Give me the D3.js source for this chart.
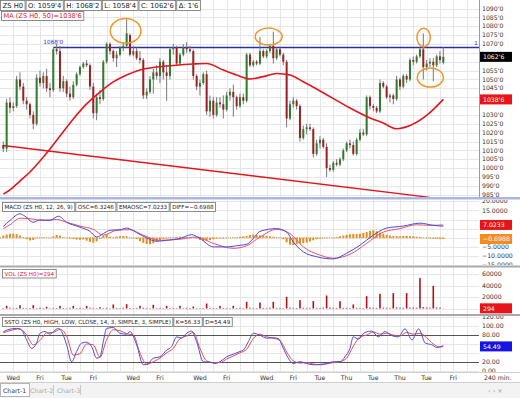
<!DOCTYPE html>
<html>
<head>
<meta charset="utf-8">
<script src="https://cdn.jsdelivr.net/npm/d3@7"></script>
<style>
body { margin: 0; background: #fff; }
svg { display: block; font-family: "DejaVu Sans", sans-serif; }
</style>
</head>
<body>
<script>
// ---- data ----
// 240 min bars of ZS H0: [open, high, low, close]
var bars = [
  [1013, 1015, 1009, 1011], [1011, 1039, 1009, 1037], [1037, 1040, 1031, 1034], [1034, 1037, 1032, 1035],
  [1035, 1052, 1034, 1050], [1050, 1054, 1044, 1046], [1046, 1048, 1036, 1038], [1038, 1040, 1033, 1036],
  [1036, 1037, 1028, 1030], [1030, 1032, 1022, 1025], [1025, 1053, 1024, 1051], [1051, 1055, 1046, 1048],
  [1048, 1054, 1045, 1052], [1052, 1056, 1043, 1045], [1045, 1048, 1040, 1044], [1044, 1068, 1043, 1067],
  [1067, 1070, 1064, 1066], [1066, 1069, 1043, 1045], [1045, 1052, 1043, 1049], [1049, 1050, 1040, 1042],
  [1042, 1046, 1038, 1040], [1040, 1049, 1039, 1047], [1047, 1054, 1046, 1053], [1053, 1058, 1052, 1057],
  [1057, 1060, 1056, 1059], [1059, 1061, 1057, 1058], [1058, 1059, 1044, 1046], [1046, 1048, 1028, 1031],
  [1031, 1042, 1027, 1040], [1040, 1044, 1036, 1039], [1039, 1061, 1038, 1060], [1060, 1071, 1059, 1070],
  [1070, 1071, 1064, 1066], [1066, 1067, 1060, 1062], [1062, 1066, 1057, 1064], [1064, 1069, 1063, 1068],
  [1068, 1071, 1066, 1069], [1069, 1084, 1068, 1076], [1075, 1076, 1063, 1064], [1064, 1069, 1063, 1066],
  [1066, 1068, 1061, 1062], [1062, 1066, 1059, 1061], [1061, 1062, 1039, 1041], [1041, 1045, 1039, 1043],
  [1043, 1052, 1042, 1050], [1050, 1056, 1042, 1054], [1054, 1058, 1050, 1052], [1052, 1062, 1048, 1060],
  [1060, 1061, 1050, 1054], [1054, 1058, 1038, 1052], [1052, 1068, 1050, 1067], [1067, 1070, 1064, 1068],
  [1068, 1069, 1058, 1059], [1059, 1065, 1058, 1064], [1064, 1070, 1063, 1068], [1068, 1071, 1065, 1067],
  [1067, 1069, 1065, 1066], [1066, 1067, 1050, 1052], [1052, 1053, 1044, 1046], [1046, 1050, 1041, 1048],
  [1048, 1054, 1047, 1053], [1053, 1055, 1030, 1032], [1032, 1041, 1029, 1038], [1038, 1040, 1028, 1030],
  [1030, 1040, 1029, 1037], [1037, 1040, 1034, 1036], [1036, 1041, 1028, 1033], [1033, 1043, 1032, 1041],
  [1041, 1045, 1038, 1043], [1043, 1047, 1029, 1040], [1040, 1041, 1033, 1035], [1035, 1042, 1034, 1040],
  [1040, 1042, 1036, 1038], [1038, 1065, 1037, 1064], [1064, 1065, 1057, 1058], [1058, 1061, 1057, 1060],
  [1060, 1061, 1058, 1059], [1059, 1074, 1058, 1066], [1066, 1067, 1062, 1063], [1063, 1067, 1062, 1066],
  [1066, 1070, 1065, 1069], [1069, 1077, 1059, 1062], [1062, 1068, 1061, 1067], [1067, 1068, 1063, 1064],
  [1064, 1065, 1058, 1060], [1060, 1061, 1023, 1028], [1028, 1038, 1027, 1036], [1036, 1040, 1034, 1038],
  [1038, 1039, 1033, 1035], [1035, 1036, 1015, 1017], [1017, 1024, 1016, 1022], [1022, 1025, 1019, 1023],
  [1023, 1025, 1021, 1022], [1022, 1023, 1006, 1008], [1008, 1016, 1007, 1014], [1014, 1018, 1011, 1016],
  [1016, 1017, 1011, 1012], [1012, 1014, 995, 1000], [1000, 1002, 998, 999], [999, 1004, 998, 1003],
  [1003, 1005, 1001, 1002], [1002, 1006, 1001, 1005], [1005, 1011, 1004, 1010], [1010, 1015, 1009, 1014],
  [1014, 1016, 1011, 1013], [1013, 1015, 1007, 1008], [1008, 1017, 1007, 1016], [1016, 1022, 1015, 1020],
  [1020, 1022, 1018, 1019], [1019, 1041, 1018, 1040], [1040, 1041, 1033, 1035], [1035, 1036, 1032, 1034],
  [1034, 1035, 1031, 1032], [1032, 1050, 1031, 1048], [1048, 1049, 1045, 1046], [1046, 1047, 1039, 1040],
  [1040, 1042, 1037, 1041], [1041, 1042, 1036, 1039], [1039, 1052, 1038, 1050], [1050, 1051, 1044, 1046],
  [1046, 1053, 1045, 1052], [1052, 1053, 1048, 1050], [1050, 1062, 1049, 1061], [1061, 1063, 1058, 1060],
  [1060, 1064, 1059, 1063], [1063, 1068, 1062, 1067], [1067, 1076, 1050, 1057], [1057, 1061, 1055, 1059],
  [1059, 1062, 1057, 1060], [1060, 1062, 1049, 1058], [1058, 1064, 1057, 1063], [1063, 1066, 1059, 1061],
  [1059.5, 1068.25, 1058.5, 1062.75]
];

var volumes = [
  900, 4600, 1200, 700, 1100, 5800, 1000, 600, 900, 5800, 800, 1300, 700, 2900, 600, 1000, 800,
  4600, 900, 700, 1100, 4600, 800, 1000, 600, 4600, 1200, 900, 700, 2300, 800, 1100, 600,
  7000, 1000, 800, 1300, 7500, 900, 700, 1000, 4600, 1200, 800, 600, 6400, 900, 1100, 700,
  4600, 800, 1000, 600, 4600, 700, 1200, 900, 3500, 800, 600, 1000, 8700, 1100, 900, 700,
  4600, 1000, 800, 600, 4600, 900, 1200, 700, 11600, 1300, 1000, 800, 10400, 1100, 900, 1400,
  11600, 1000, 1200, 800, 20300, 1500, 1100, 900, 14500, 1300, 1000, 1200, 12800, 1100, 900, 1400,
  22600, 1600, 1200, 1000, 12800, 1300, 1100, 900, 7000, 1200, 1000, 800, 21400, 1700, 1300, 1100,
  25500, 1500, 1200, 1000, 26700, 1800, 1400, 1200, 26700, 1600, 1500, 1300, 52800, 2200, 1600, 1400,
  39400, 1800, 1500, 294
];

// MA(50) readings [bar, value]
var maLine = [
  [0, 985.3], [2, 987.7], [5, 992.7], [8, 997.8], [11, 1004], [14, 1010.8], [17, 1018.1], [21, 1027.7],
  [25, 1036.2], [29, 1042.9], [33, 1048.6], [37, 1052.5], [41, 1055.3], [46, 1057], [51, 1057.9],
  [57, 1058.7], [61, 1059], [66, 1055.3], [70, 1052.5], [74, 1050.3], [78, 1051.6], [82, 1053.4],
  [86, 1052.5], [90, 1048.7], [94, 1044.6], [98, 1040.3], [104, 1033.9], [110, 1028.3], [114, 1025.4],
  [118, 1022.2], [122, 1024], [127, 1029.7], [132, 1038.75]
];
var trendLine = [[0, 1012.75], [128, 983.5]];
var resistance = { from: 15, price: 1068 };
// orange marks: centre [bar, price], half-size [bars, price]
var marks = [
  { i: 36.7, p: 1077.4, di: 4.6, dp: 7 },
  { i: 79.6, p: 1074.2, di: 4.05, dp: 4.8 },
  { i: 126.1, p: 1073.7, di: 2, dp: 5.2 },
  { i: 128.1, p: 1051.1, di: 3.9, dp: 5.4 }
];

var macdOsc = [
  [0, 6.2], [2, 9.5], [5, 13.1], [6.5, 11.8], [9, 8.5], [11, 9.8], [14, 9.5], [16.5, 11.8], [19, 8.5],
  [23, 5.8], [26, 3.5], [28, 0.4], [30, 2.3], [32, 4.1], [35, 4.4], [37, 5.3], [40, 2.8], [43, -0.1],
  [46, -1.9], [49, -1.4], [53, -0.4], [56.5, 1.7], [59, -0.4], [63, -5], [67, -5], [71, -4.1], [73, -3.6],
  [75, -0.4], [77, 3.5], [82, 5], [85, 3.1], [87, -2.3], [90, -7.7], [94, -10.4], [99, -11.6], [103, -8.5],
  [107, -4.1], [111, 1.4], [115, 5.3], [120, 6.4], [125, 8], [129, 6.8], [132, 6.3246]
];
var macdEma = [
  [0, 5], [2, 7.1], [5, 10.7], [8, 10.4], [12, 9.5], [16, 10], [19, 8.5], [23, 6.4], [27, 4.6], [30, 1.4],
  [34, 4.1], [38, 4.4], [42, 1.4], [47, -1.4], [53, -0.8], [58, 0.4], [63, -3.1], [69, -5.8], [73, -4.4],
  [77, 0.4], [82, 4.6], [86, 2.3], [90, -5], [95, -9.5], [99, -11.2], [104, -9.1], [109, -3.1], [114, 3.1],
  [119, 5], [124, 7.1], [128, 6.8], [132, 7.0233]
];
var macdDiff = [
  1.2, 1.8, 2.2, 2.3, 2.0, 1.2, 0.3, -0.8, -1.5, -1.2, -0.3, 0.2, 0.3, 0.1, -0.2, 0.8, 1.5, 1.2,
  0.3, -0.2, -0.4, -0.6, -1.0, -1.1, -0.9, -1.6, -2.3, -2.7, -2.0, -0.5, 1.0, 1.5, 0.6, 0.3,
  0.6, 0.9, 1.0, 0.8, 0.2, -0.3, -0.8, -1.8, -2.8, -3.4, -3.6, -3.0, -2.2, -1.2, -0.6, -0.4, -0.2,
  0.3, 0.5, 0.6, 0.5, 0.4, 0.2, -0.1, -0.4, -1.2, -1.8, -1.6, -1.2, -0.8, -0.5, -0.3, -0.4, -0.2, 0.1,
  0.2, 0.3, 0.5, 0.7, 1.0, 1.5, 1.8, 1.6, 1.3, 1.2, 1.0, 0.8, 0.6, 0.3, -0.2, -0.8,
  -2.5, -3.8, -4.0, -3.6, -3.2, -3.0, -2.6, -2.0, -1.4, -0.8, -0.5, -0.3, -0.2, 0.0, 0.2, 0.4, 0.8,
  1.2, 1.6, 1.9, 2.1, 2.0, 2.2, 2.6, 3.2, 3.8, 4.1, 3.6, 2.8, 2.2, 1.6,
  1.2, 1.0, 0.9, 0.8, 1.0, 1.1, 0.9, 0.8, 0.6, 0.4, 0.1, -0.2, -0.4, -0.5, -0.6, -0.7, -0.6988
];

var stoK = [
  [0, 87], [1, 91], [4, 95], [5.5, 91], [7, 69], [8.5, 50], [10, 62], [11, 84], [12.5, 88], [14, 82],
  [15.5, 91], [16.5, 95], [17.5, 88], [19, 58], [20.5, 20], [22, 43], [23.5, 62], [25, 64], [26.5, 54],
  [28, 28], [29, 31], [30, 65], [31, 95], [33, 97], [35, 84], [37, 82], [38, 88], [40, 58], [42, 13],
  [43.5, 16], [45, 28], [47, 31], [49, 46], [50.5, 54], [52, 76], [53.5, 73], [55, 84], [56.5, 89],
  [58, 65], [60, 20], [62, 19], [63.5, 16], [65, 20], [67, 31], [69, 37], [71, 43], [72, 46], [73.5, 65],
  [75, 84], [77, 80], [79, 73], [81, 74], [82.5, 72], [84, 50], [85.5, 28], [87, 16], [89, 20], [91, 16],
  [93, 13], [95, 14], [97, 16], [99, 20], [101, 20], [102.5, 31], [104, 50], [105, 76], [106.5, 71],
  [108.5, 86], [110.5, 89], [112.5, 76], [114.5, 88], [116.5, 79], [118.5, 76], [120.5, 94], [122.6, 69],
  [124.6, 94], [126.6, 62], [128.6, 58], [130, 52], [132, 56.33]
];
var stoD = [
  [0, 85], [2, 90], [5, 94], [7, 80], [9, 58], [11, 68], [13, 85], [15, 86], [17, 93], [19, 78], [21, 35],
  [23, 38], [25, 60], [27, 58], [29, 30], [31, 70], [33, 92], [35, 90], [37, 83], [39, 80], [41, 40],
  [43, 14], [45, 20], [47, 28], [49, 40], [51, 50], [53, 72], [55, 78], [57, 86], [59, 50], [61, 22],
  [63, 18], [65, 18], [67, 26], [69, 33], [71, 40], [73, 48], [75, 72], [77, 82], [79, 76], [81, 73],
  [83, 68], [85, 42], [87, 22], [89, 17], [91, 18], [93, 15], [95, 13], [97, 15], [99, 18], [101, 20],
  [103, 28], [105, 55], [107, 76], [109, 80], [111, 87], [113, 82], [115, 84], [117, 80], [119, 78],
  [121, 86], [123, 82], [125, 84], [127, 74], [129, 60], [131, 53], [132, 54.49]
];

var dayTicks = [
  [3, "Wed"], [11, "Fri"], [19, "Tue"], [27, "Fri"], [39, "Wed"], [47, "Fri"], [59, "Wed"], [67, "Fri"],
  [79, "Wed"], [87, "Fri"], [95, "Tue"], [103, "Thu"], [111, "Tue"], [119, "Thu"], [127, "Tue"], [135, "Fri"]
];

// ---- layout ----
var plotRight = 479;
var svg = d3.select("body").append("svg").attr("width", 520).attr("height", 398);

var x = d3.scaleLinear().domain([0, 132]).range([3.3, 443.3]);
var yPrice = d3.scaleLinear().domain([985, 1070]).range([194.7, 44]);
var yMacd = d3.scaleLinear().domain([-10, 10]).range([256, 219.5]);
var yVol = d3.scaleLinear().domain([0, 60000]).range([308.5, 274]);
var ySto = d3.scaleLinear().domain([0, 100]).range([370.6, 326.2]);

function fmtPrice(v) {
  var w = Math.floor(v), e = Math.round((v - w) * 8);
  if (e === 8) { w += 1; e = 0; }
  return w + "'" + e;
}

var last = bars[bars.length - 1];
var prev = bars[bars.length - 2];

var panels = [
  { id: "p0", top: 0, bottom: 197, y: yPrice, ticks: d3.range(985, 1095, 5), fmt: fmtPrice,
    boxes: [{ v: last[3], t: fmtPrice(last[3]), bg: "#000" }, { v: maLine[maLine.length - 1][1], t: fmtPrice(maLine[maLine.length - 1][1]), bg: "#e8141a" }] },
  { id: "p1", top: 200, bottom: 265, y: yMacd, ticks: d3.range(-15, 25, 5), fmt: d3.format(".4f"),
    boxes: [{ v: macdEma[macdEma.length - 1][1], t: d3.format(".4f")(macdEma[macdEma.length - 1][1]), bg: "#e8141a" },
            { v: macdDiff[macdDiff.length - 1], t: d3.format(".4f")(macdDiff[macdDiff.length - 1]), bg: "#f28c1c" }] },
  { id: "p2", top: 268, bottom: 314, y: yVol, ticks: [0, 20000, 40000, 60000], fmt: d3.format("d"),
    boxes: [{ v: volumes[volumes.length - 1], t: String(volumes[volumes.length - 1]), bg: "#e8141a" }] },
  { id: "p3", top: 316, bottom: 372, y: ySto, ticks: d3.range(0, 140, 20), fmt: d3.format(".2f"),
    boxes: [{ v: stoD[stoD.length - 1][1], t: d3.format(".2f")(stoD[stoD.length - 1][1]), bg: "#1414e6" }] }
];

var defs = svg.append("defs");
panels.forEach(function (p) {
  defs.append("clipPath").attr("id", "c" + p.id).append("rect")
    .attr("x", 0).attr("y", p.top).attr("width", plotRight).attr("height", p.bottom - p.top);
  defs.append("clipPath").attr("id", "a" + p.id).append("rect")
    .attr("x", plotRight).attr("y", p.top).attr("width", 520 - plotRight).attr("height", p.bottom - p.top);

  var g = svg.append("g").attr("clip-path", "url(#c" + p.id + ")");
  g.selectAll("line.h").data(p.ticks).enter().append("line")
    .attr("x1", 0).attr("x2", plotRight)
    .attr("y1", function (d) { return Math.round(p.y(d)) + 0.5; })
    .attr("y2", function (d) { return Math.round(p.y(d)) + 0.5; })
    .attr("stroke", "#e6e6e6");
  g.selectAll("line.v").data(d3.range(3, 145, 4)).enter().append("line")
    .attr("x1", function (d) { return Math.round(x(d)) + 0.5; })
    .attr("x2", function (d) { return Math.round(x(d)) + 0.5; })
    .attr("y1", p.top).attr("y2", p.bottom)
    .attr("stroke", "#e6e6e6");
  p.g = g;

  var a = svg.append("g").attr("clip-path", "url(#a" + p.id + ")");
  a.selectAll("text").data(p.ticks.filter(function (d) {
      return p.boxes.every(function (b) { return Math.abs(p.y(d) - p.y(b.v)) > 7; });
    })).enter().append("text")
    .attr("x", 482).attr("y", function (d) { return p.y(d); }).attr("dy", "0.35em")
    .attr("fill", "#333").style("font-size", "6.2px")
    .text(function (d) { return p.fmt(d); });
  p.boxes.forEach(function (b) {
    a.append("rect").attr("x", 480).attr("y", p.y(b.v) - 5).attr("width", 32).attr("height", 10).attr("fill", b.bg);
    a.append("text").attr("x", 483).attr("y", p.y(b.v)).attr("dy", "0.35em")
      .attr("fill", "#fff").style("font-size", "6.2px").text(b.t);
  });
});

// ---- main price panel ----
var gm = panels[0].g;
var lineP = d3.line().x(function (d) { return x(d[0]); }).y(function (d) { return yPrice(d[1]); });

gm.append("path").datum(trendLine).attr("d", lineP)
  .attr("fill", "none").attr("stroke", "#e3161e").attr("stroke-width", 1.4);

gm.append("line")
  .attr("x1", x(resistance.from)).attr("x2", plotRight)
  .attr("y1", yPrice(resistance.price)).attr("y2", yPrice(resistance.price))
  .attr("stroke", "#2b2fa6").attr("stroke-width", 1.5);
gm.append("text").attr("x", x(resistance.from)).attr("y", yPrice(resistance.price) - 4)
  .attr("text-anchor", "middle").attr("fill", "#3a3ac8").style("font-size", "5.8px")
  .text(fmtPrice(resistance.price));
gm.append("text").attr("x", plotRight - 3).attr("y", yPrice(resistance.price) - 3)
  .attr("text-anchor", "middle").attr("fill", "#3a3ac8").style("font-size", "5.5px").text("1");

var candle = gm.append("g").selectAll("g").data(bars).enter().append("g");
candle.append("line")
  .attr("x1", function (d, i) { return x(i); }).attr("x2", function (d, i) { return x(i); })
  .attr("y1", function (d) { return yPrice(d[1]); }).attr("y2", function (d) { return yPrice(d[2]); })
  .attr("stroke", "#777").attr("stroke-width", 1);
candle.append("rect")
  .attr("x", function (d, i) { return x(i) - 1; }).attr("width", 2)
  .attr("y", function (d) { return yPrice(Math.max(d[0], d[3])); })
  .attr("height", function (d) { return Math.max(1, Math.abs(yPrice(d[0]) - yPrice(d[3]))); })
  .attr("fill", function (d) { return d[3] >= d[0] ? "#2f7a2f" : "#9c2222"; });

gm.append("path").datum(maLine).attr("d", lineP.curve(d3.curveMonotoneX))
  .attr("fill", "none").attr("stroke", "#e3161e").attr("stroke-width", 1.6);

gm.selectAll("ellipse").data(marks).enter().append("ellipse")
  .attr("cx", function (d) { return x(d.i); }).attr("cy", function (d) { return yPrice(d.p); })
  .attr("rx", function (d) { return x(d.i + d.di) - x(d.i); })
  .attr("ry", function (d) { return yPrice(d.p - d.dp) - yPrice(d.p); })
  .attr("fill", "none").attr("stroke", "#f0962a").attr("stroke-width", 1.5);

svg.append("line").attr("x1", plotRight + 0.5).attr("x2", plotRight + 0.5).attr("y1", 0).attr("y2", 197)
  .attr("stroke", "#8d98d6");

// ---- MACD panel ----
var g1 = panels[1].g;
g1.append("line").attr("x1", 0).attr("x2", x(132) + 1).attr("y1", yMacd(0)).attr("y2", yMacd(0))
  .attr("stroke", "#b77a2a").attr("stroke-dasharray", "1,1.3").attr("stroke-width", 0.8);
g1.selectAll("rect").data(macdDiff).enter().append("rect")
  .attr("x", function (d, i) { return x(i) - 1; }).attr("width", 2)
  .attr("y", function (d) { return Math.min(yMacd(d), yMacd(0)); })
  .attr("height", function (d) { return Math.abs(yMacd(d) - yMacd(0)); })
  .attr("fill", "#e38d1e");
var lineM = d3.line().curve(d3.curveMonotoneX)
  .x(function (d) { return x(d[0]); }).y(function (d) { return yMacd(d[1]); });
g1.append("path").datum(macdEma).attr("d", lineM).attr("fill", "none").attr("stroke", "#e8506e").attr("stroke-width", 1);
g1.append("path").datum(macdOsc).attr("d", lineM).attr("fill", "none").attr("stroke", "#4a4ad8").attr("stroke-width", 1);

// ---- volume panel ----
var g2 = panels[2].g;
g2.selectAll("rect").data(volumes).enter().append("rect")
  .attr("x", function (d, i) { return x(i) - 0.8; }).attr("width", 1.6)
  .attr("y", function (d) { return yVol(d); })
  .attr("height", function (d) { return yVol(0) - yVol(d); })
  .attr("fill", "#a8141a");

// ---- stochastic panel ----
var g3 = panels[3].g;
[80, 20].forEach(function (v) {
  g3.append("line").attr("x1", 0).attr("x2", plotRight)
    .attr("y1", Math.round(ySto(v)) + 0.5).attr("y2", Math.round(ySto(v)) + 0.5)
    .attr("stroke", "#555");
});
var lineS = d3.line().curve(d3.curveMonotoneX)
  .x(function (d) { return x(d[0]); }).y(function (d) { return ySto(d[1]); });
g3.append("path").datum(stoD).attr("d", lineS).attr("fill", "none").attr("stroke", "#e84c4c").attr("stroke-width", 1);
g3.append("path").datum(stoK).attr("d", lineS).attr("fill", "none").attr("stroke", "#4c4ce0").attr("stroke-width", 1);

// ---- separators ----
svg.append("rect").attr("x", 0).attr("y", 197).attr("width", 520).attr("height", 2.5).attr("fill", "#aab6e2");
svg.append("rect").attr("x", 0).attr("y", 265.5).attr("width", 520).attr("height", 2).attr("fill", "#a9a9a9");
svg.append("rect").attr("x", 0).attr("y", 314).attr("width", 520).attr("height", 2).attr("fill", "#a9a9a9");
svg.append("line").attr("x1", 0).attr("x2", 520).attr("y1", 372.5).attr("y2", 372.5).attr("stroke", "#d0d0d0");

// ---- legends ----
function legend(items, x0, top, h, size) {
  var g = svg.append("g");
  var xx = x0;
  items.forEach(function (it) {
    var r = g.append("rect").attr("x", xx).attr("y", top).attr("height", h)
      .attr("fill", "#fff").attr("stroke", "#707070").attr("stroke-width", 0.8);
    var t = g.append("text").attr("x", xx + 2).attr("y", top + h / 2).attr("dy", "0.36em")
      .style("font-size", size + "px").attr("fill", it.c || "#222").text(it.t);
    var w = t.node().getComputedTextLength() + 4;
    r.attr("width", w);
    xx += w + 1;
  });
}
legend([
  { t: "ZS H0" }, { t: "O: " + fmtPrice(last[0]) }, { t: "H: " + fmtPrice(last[1]) },
  { t: "L: " + fmtPrice(last[2]) }, { t: "C: " + fmtPrice(last[3]) }, { t: "\u0394: " + fmtPrice(last[3] - prev[3]) }
], 0.5, 0.5, 10, 6.8);
legend([{ t: "MA (ZS H0, 50)=" + fmtPrice(maLine[maLine.length - 1][1]), c: "#e3161e" }], 1.5, 11.5, 9, 6.6);
legend([
  { t: "MACD (ZS H0, 12, 26, 9)" }, { t: "OSC=" + d3.format(".4f")(macdOsc[macdOsc.length - 1][1]) },
  { t: "EMAOSC=" + d3.format(".4f")(macdEma[macdEma.length - 1][1]) },
  { t: "DIFF=" + d3.format(".4f")(macdDiff[macdDiff.length - 1]) }
], 2.5, 202.5, 9, 5.6);
legend([{ t: "VOL (ZS H0)=" + volumes[volumes.length - 1], c: "#e3161e" }], 2.5, 269.5, 8.5, 5.6);
legend([
  { t: "SSTO (ZS H0, HIGH, LOW, CLOSE, 14, 3, SIMPLE, 3, SIMPLE)" },
  { t: "K=" + d3.format(".2f")(stoK[stoK.length - 1][1]) },
  { t: "D=" + d3.format(".2f")(stoD[stoD.length - 1][1]) }
], 2.5, 317.5, 9, 5.6);

// ---- time axis ----
svg.append("g").selectAll("text").data(dayTicks).enter().append("text")
  .attr("x", function (d) { return x(d[0]); }).attr("y", 377.5).attr("dy", "0.35em")
  .attr("text-anchor", "middle").attr("fill", "#333").style("font-size", "6.2px")
  .text(function (d) { return d[1]; });
svg.append("text").attr("x", 484).attr("y", 377.5).attr("dy", "0.35em")
  .attr("fill", "#333").style("font-size", "6.2px").text("240 min.");

// ---- tab bar ----
svg.append("rect").attr("x", 0).attr("y", 382).attr("width", 520).attr("height", 16).attr("fill", "#f3f3f3");
svg.append("line").attr("x1", 0).attr("x2", 520).attr("y1", 382.5).attr("y2", 382.5).attr("stroke", "#cfcfcf");
svg.append("rect").attr("x", 0.5).attr("y", 383.5).attr("width", 29).attr("height", 13).attr("fill", "#fff").attr("stroke", "#b5b5b5");
var tabs = [["Chart-1", "#333"], ["Chart-2", "#aaa"], ["Chart-3", "#aaa"]];
svg.append("g").selectAll("text").data(tabs).enter().append("text")
  .attr("x", function (d, i) { return 3 + i * 27; }).attr("y", 390.5).attr("dy", "0.35em")
  .attr("fill", function (d) { return d[1]; }).style("font-size", "6.2px")
  .text(function (d) { return d[0]; });
svg.append("g").selectAll("line").data([53.5, 80.5]).enter().append("line")
  .attr("x1", function (d) { return d; }).attr("x2", function (d) { return d; })
  .attr("y1", 385).attr("y2", 395).attr("stroke", "#c8c8c8");
svg.append("text").attr("x", 488).attr("y", 390.5).attr("dy", "0.35em")
  .attr("fill", "#999").style("font-size", "6.5px").text("\u2039 \u203a \u00d7");
</script>
</body>
</html>
